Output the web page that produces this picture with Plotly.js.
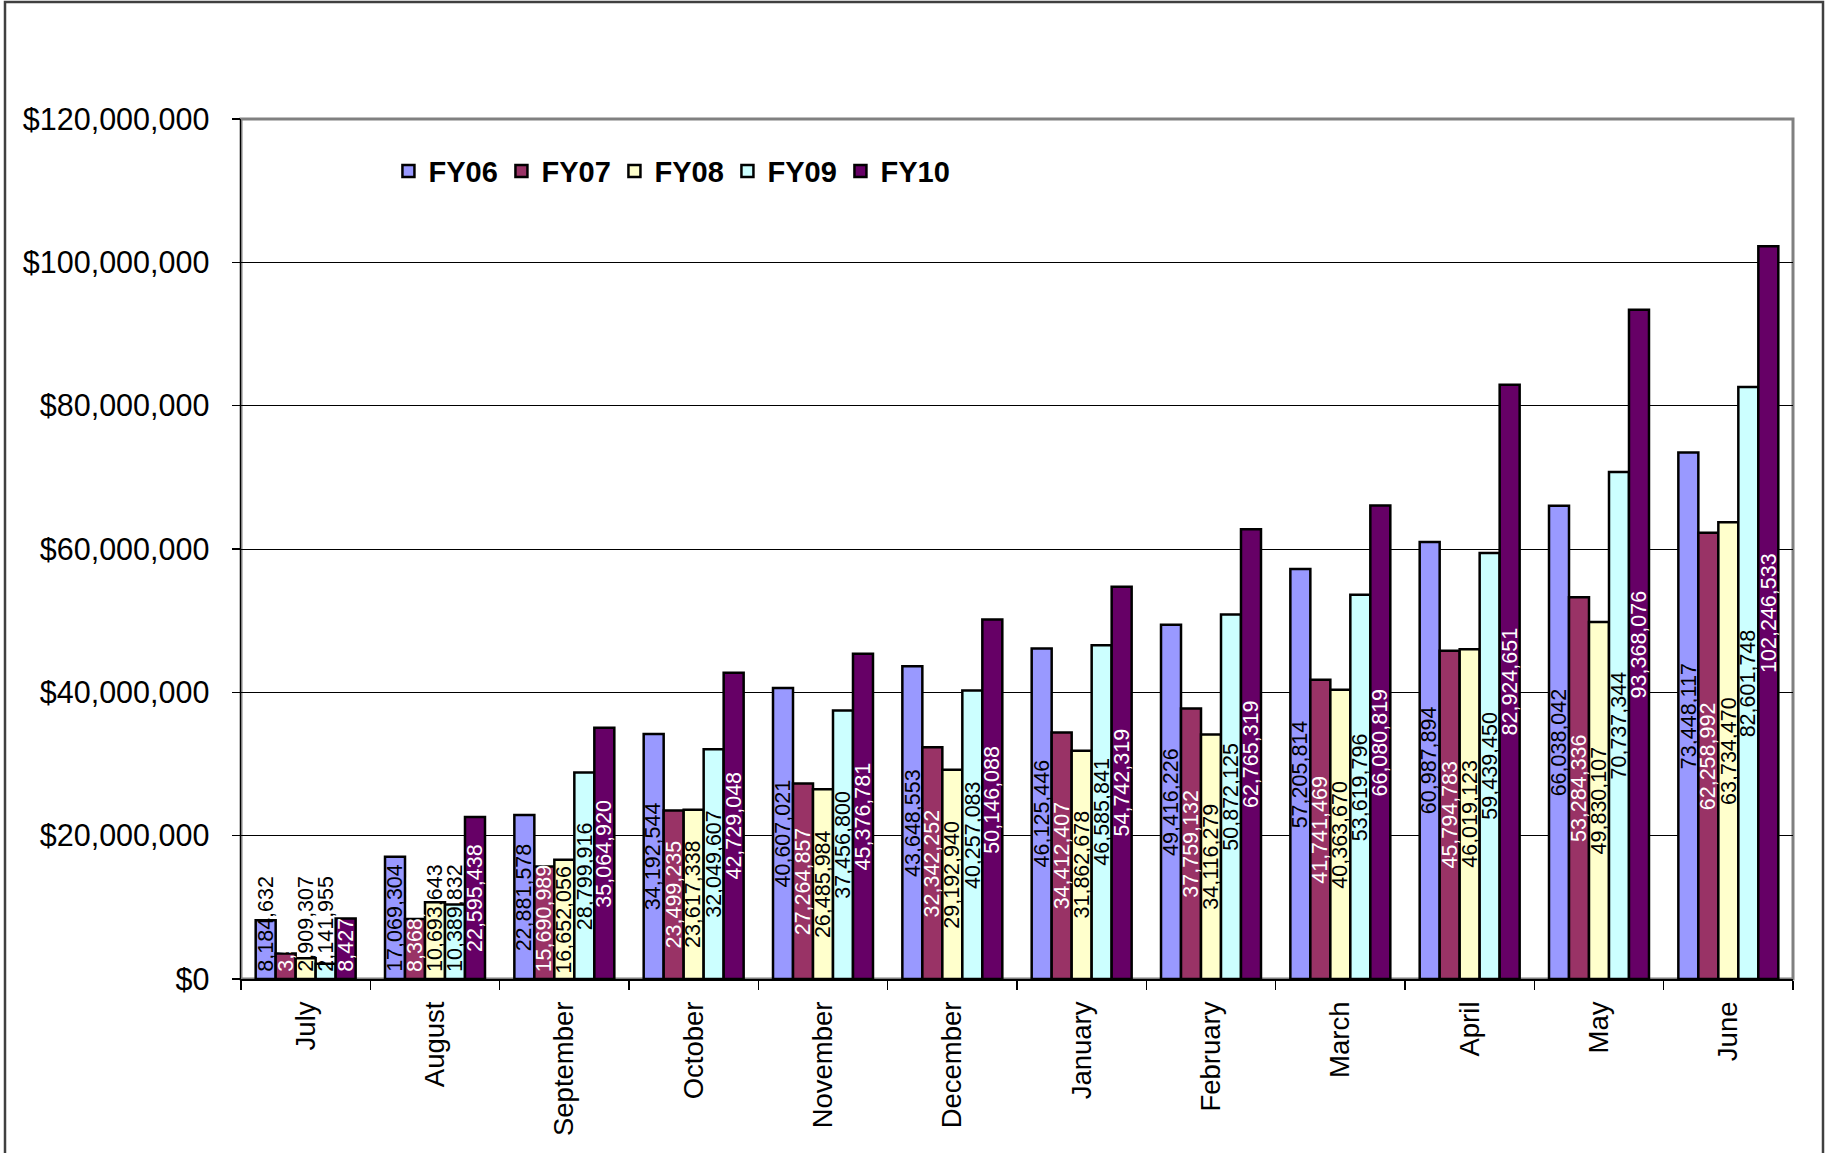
<!DOCTYPE html>
<html>
<head>
<meta charset="utf-8">
<script src="https://cdn.plot.ly/plotly-3.0.1.min.js"></script>
<style>
  html, body { margin: 0; padding: 0; background: #fff; }
  #chart { width: 1827px; height: 1153px; }
</style>
</head>
<body>
<div id="chart"></div>
<script>
// ---- data ----
var months = ["July", "August", "September", "October", "November", "December",
              "January", "February", "March", "April", "May", "June"];
var seriesNames = ["FY06", "FY07", "FY08", "FY09", "FY10"];
var fy06 = [8184632, 17069304, 22881578, 34192544, 40607021, 43648553, 46125446, 49416226, 57205814, 60987894, 66038042, 73448117];
// FY07 July / August and FY10 July: trailing digits hidden in the reference, estimated
var fy07 = [3571204, 8368527, 15690989, 23499235, 27264857, 32342252, 34412407, 37759132, 41741469, 45794783, 53284336, 62258992];
var fy08 = [2909307, 10693643, 16652056, 23617338, 26485984, 29192940, 31862678, 34116279, 40363670, 46019123, 49830107, 63734470];
var fy09 = [2141955, 10389832, 28799916, 32049607, 37456800, 40257083, 46585841, 50872125, 53619796, 59439450, 70737344, 82601748];
var fy10 = [8427315, 22595438, 35064920, 42729048, 45376781, 50146088, 54742319, 62765319, 66080819, 82924651, 93368076, 102246533];
var yTickVals = [0, 20000000, 40000000, 60000000, 80000000, 100000000, 120000000];

// ---- styling ----
var allSeries = [fy06, fy07, fy08, fy09, fy10];
var colors = ["#9999FF", "#993366", "#FFFFCC", "#CCFFFF", "#660066"];
var labelColors = ["#000000", "#FFFFFF", "#000000", "#000000", "#FFFFFF"];
var FONT = "Liberation Sans, Arial, sans-serif";
var W = 1827, H = 1153;
var M = {l: 241, r: 34, t: 119, b: 174};
var plotH = H - M.t - M.b;
var yMax = 120000000;
var bargap = 0.227;
var nS = allSeries.length;
var barW = (1 - bargap) / nS;
var labelSize = 21.5;

var traces = allSeries.map(function (vals, s) {
  return {
    type: "bar",
    name: seriesNames[s],
    x: months,
    y: vals,
    marker: {color: colors[s], line: {color: "#000000", width: 2.5}},
    textposition: "none",
    hoverinfo: "skip"
  };
});

function fmt(v) { return v.toLocaleString("en-US"); }
function textWidthPx(str) {
  var w = 0;
  for (var k = 0; k < str.length; k++) w += (str[k] === ",") ? 0.278 : 0.556;
  return w * labelSize;
}

var annotations = [];
allSeries.forEach(function (vals, s) {
  vals.forEach(function (v, i) {
    var txt = fmt(v);
    var half = textWidthPx(txt) / 2;
    var centerPx = (v / 2) / yMax * plotH;
    var clamp = (centerPx - half) < 4;
    annotations.push({
      xref: "x", yref: "y",
      x: i + (s - (nS - 1) / 2) * barW,
      y: clamp ? 0 : v / 2,
      yanchor: clamp ? "bottom" : "middle",
      xanchor: "center",
      yshift: clamp ? 6 : 0,
      text: txt,
      textangle: -90,
      showarrow: false,
      borderpad: 0,
      font: {family: FONT, size: labelSize, color: labelColors[s]}
    });
  });
});

var layout = {
  width: W, height: H,
  margin: M,
  paper_bgcolor: "#FFFFFF",
  plot_bgcolor: "#FFFFFF",
  font: {family: FONT, color: "#000000"},
  barmode: "group",
  bargap: bargap,
  bargroupgap: 0,
  showlegend: true,
  legend: {
    orientation: "h",
    x: 0.095, y: 0.9395, xanchor: "left", yanchor: "middle",
    font: {family: FONT, size: 29, weight: "bold", color: "#000000"},
    bgcolor: "rgba(0,0,0,0)",
    entrywidth: 68,
    traceorder: "normal"
  },
  xaxis: {
    type: "category",
    tickangle: -90,
    ticks: "outside",
    tickson: "boundaries",
    ticklen: 9,
    tickwidth: 1.5,
    tickcolor: "#000000",
    showline: true,
    linecolor: "#000000",
    linewidth: 1.5,
    showgrid: false,
    tickfont: {family: FONT, size: 27.5, color: "#000000"},
    ticklabelstandoff: 10,
    fixedrange: true
  },
  yaxis: {
    range: [0, yMax],
    tickvals: yTickVals,
    tickformat: "$,d",
    showgrid: true,
    gridcolor: "#000000",
    gridwidth: 1,
    zeroline: false,
    showline: true,
    linecolor: "#000000",
    linewidth: 1.5,
    ticks: "outside",
    ticklen: 8,
    tickwidth: 1.5,
    tickcolor: "#000000",
    tickfont: {family: FONT, size: 30.5, color: "#000000"},
    ticklabelstandoff: 16,
    fixedrange: true
  },
  shapes: [
    {type: "rect", xref: "paper", yref: "paper", x0: 0, x1: 1, y0: 0, y1: 1,
     line: {color: "#808080", width: 3}, layer: "below"},
    {type: "rect", xref: "paper", yref: "paper",
     x0: (5 - M.l) / (W - M.l - M.r), x1: (1823 - M.l) / (W - M.l - M.r),
     y0: -0.3, y1: (H - M.b - 2) / plotH,
     line: {color: "#404040", width: 2.5}, layer: "above"}
  ],
  annotations: annotations
};

Plotly.newPlot("chart", traces, layout, {staticPlot: true, displayModeBar: false});
</script>
</body>
</html>
